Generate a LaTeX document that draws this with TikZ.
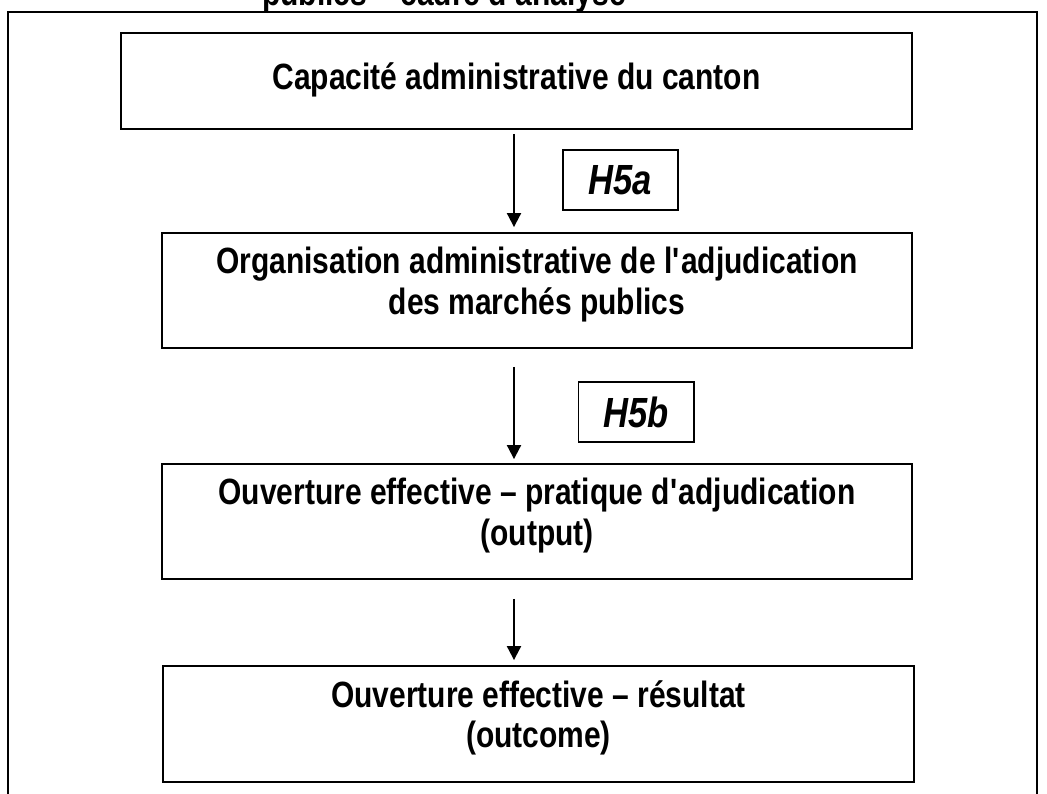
\documentclass[tikz,border=0pt]{standalone}
\usepackage{fontspec}
\setmainfont{Liberation Sans}[FakeStretch=0.82]
\usetikzlibrary{arrows.meta}

\begin{document}
\begin{tikzpicture}[x=0.025cm,y=-0.025cm,
    every node/.style={font=\fontsize{26}{29}\selectfont\bfseries},
    box/.style={draw,line width=1.4pt,inner sep=0pt,align=center,text depth=14pt},
    hyp/.style={draw,line width=1.4pt,inner sep=0pt,minimum width=2.875cm,minimum height=1.5cm,
                font=\fontsize{30}{33}\selectfont\bfseries\itshape},
    arr/.style={line width=1.4pt,-{Triangle[width=10pt,length=10pt]}}]
  \useasboundingbox (0,0) rectangle (1047,794);
  \clip (0,0) rectangle (1047,794);
  % title, cut off at the top
  \node[anchor=base](title) at (444,6){publics -- cadre d\textquotesingle analyse};
  \draw[line width=1.4pt] (8,830) -- (8,12) -- (1037,12) -- (1037,830);
  % boxes
  \node[box,text depth=7pt,minimum width=19.775cm,minimum height=2.4cm](cap) at (516.5,81)
    {Capacité administrative du canton};
  \node[box,minimum width=18.75cm,minimum height=2.875cm](org) at (537,290.5)
    {Organisation administrative de l\textquotesingle adjudication\\des marchés publics};
  \node[box,minimum width=18.75cm,minimum height=2.875cm](out) at (537,521.5)
    {Ouverture effective -- pratique d\textquotesingle adjudication\\(output)};
  \node[box,minimum width=18.775cm,minimum height=2.9cm](res) at (538.5,724)
    {Ouverture effective -- résultat\\(outcome)};
  \node[hyp](ha) at (620.5,180){H5a};
  \node[hyp](hb) at (636,412){H5b};
  % arrows
  \coordinate (axis) at (514,0);
  \draw[arr]([yshift=-2.8pt]axis |- cap.south) -- ([yshift=3.5pt]axis |- org.north);
  \draw[arr]([yshift=-12.8pt]axis |- org.south) -- ([yshift=2.8pt]axis |- out.north);
  \draw[arr]([yshift=-13.5pt]axis |- out.south) -- ([yshift=3.5pt]axis |- res.north);
\end{tikzpicture}
\end{document}
